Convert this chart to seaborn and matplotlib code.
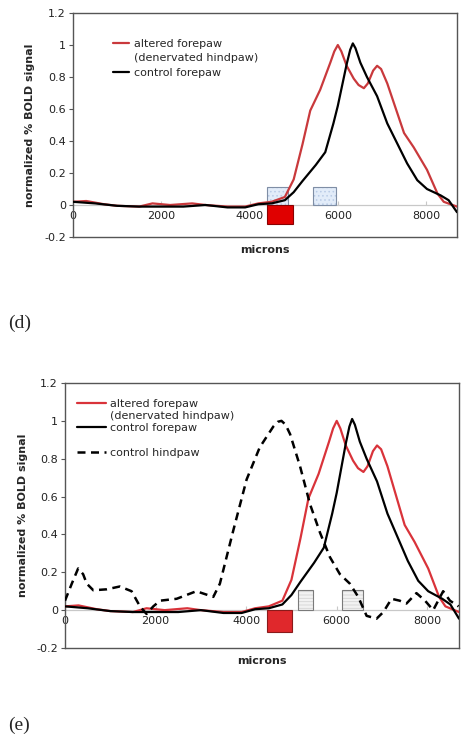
import numpy as np
import pandas as pd
import matplotlib
matplotlib.use("Agg")
import matplotlib.pyplot as plt
from matplotlib.lines import Line2D
from matplotlib.ticker import FuncFormatter
import seaborn as sns

sns.set_style("white")
plt.rcParams['font.family'] = ['DejaVu Sans']
plt.rcParams['hatch.linewidth'] = 0.6

# altered forepaw (denervated hindpaw)
x_alt = [0, 300, 700, 1000, 1500, 1800, 2200, 2700, 3000, 3500, 3900, 4200, 4500, 4800,
         5000, 5200, 5375, 5600, 5830, 5920, 6000, 6080, 6200, 6360, 6470, 6590, 6680, 6800,
         6890, 6980, 7120, 7500, 7720, 8020, 8260, 8400, 8700]
y_alt = [0.02, 0.025, 0.005, -0.005, -0.01, 0.01, 0.0, 0.01, 0.0, -0.01, -0.01, 0.01, 0.02, 0.05,
         0.16, 0.38, 0.59, 0.72, 0.89, 0.96, 1.0, 0.96, 0.87, 0.79, 0.75, 0.73, 0.76, 0.84,
         0.87, 0.85, 0.76, 0.45, 0.36, 0.22, 0.07, 0.02, -0.01]

# control forepaw
x_ctl = [0, 500, 1000, 1500, 2000, 2500, 3000, 3500, 3900, 4200, 4500, 4800, 5000, 5200,
         5500, 5715, 5900, 6000, 6200, 6280, 6340, 6400, 6510, 6660, 6890, 7120, 7345, 7570,
         7800, 8020, 8330, 8510, 8700]
y_ctl = [0.02, 0.01, -0.005, -0.01, -0.01, -0.01, 0.0, -0.015, -0.015, 0.005, 0.01, 0.03, 0.08, 0.15,
         0.25, 0.33, 0.51, 0.62, 0.88, 0.97, 1.01, 0.98, 0.89, 0.80, 0.68, 0.51, 0.385, 0.26,
         0.155, 0.10, 0.06, 0.03, -0.045]

# control hindpaw (panel e only)
x_hind = [0, 150, 290, 400, 480, 625, 920, 1210, 1470, 1655, 1800, 1950, 2100, 2465, 2900, 3275,
          3420, 3715, 4010, 4300, 4600, 4700, 4780, 4870, 4970, 5190, 5410, 5630, 5850, 6070,
          6290, 6475, 6660, 6880, 7030, 7210, 7390, 7540, 7760, 7950, 8130, 8350, 8500, 8690]
y_hind = [0.05, 0.14, 0.22, 0.19, 0.14, 0.105, 0.11, 0.125, 0.1, 0.02, -0.02, 0.02, 0.05, 0.06, 0.1, 0.07,
          0.14, 0.42, 0.69, 0.86, 0.97, 0.995, 1.0, 0.98, 0.93, 0.76, 0.56, 0.41, 0.28, 0.19,
          0.14, 0.07, -0.03, -0.045, -0.01, 0.06, 0.05, 0.035, 0.09, 0.05, 0.0, 0.1, 0.05, 0.02]

# boxes: start, end, top (microns / signal), bottom at zero
d_blue_start = [4400, 5440]
d_blue_end = [4875, 5960]
d_blue_top = [0.11, 0.11]
d_red_start = [4400]
d_red_end = [4985]
d_red_top = [-0.12]

e_gray_start = [5150, 6120]
e_gray_end = [5480, 6586]
e_gray_top = [0.106, 0.106]
e_red_start = [4464]
e_red_end = [5017]
e_red_top = [-0.116]

xticks = [0, 2000, 4000, 6000, 8000]
yticks = [-0.2, 0, 0.2, 0.4, 0.6, 0.8, 1.0, 1.2]

W, H = 469, 745
fig = plt.figure(figsize=(W / 100, H / 100), dpi=100)

FRAME = '#555555'
ZERO = '#c8c8c8'


def box(ax, starts, ends, tops, face, edge, hatch=None, hatch_color=None):
    widths = [e - s for s, e in zip(starts, ends)]
    if hatch:
        ax.bar(starts, tops, width=widths, align='edge', bottom=0, color=face,
               edgecolor=hatch_color, linewidth=0, hatch=hatch, zorder=2)
    else:
        ax.bar(starts, tops, width=widths, align='edge', bottom=0, color=face,
               linewidth=0, zorder=2)
    ax.bar(starts, tops, width=widths, align='edge', bottom=0, fill=False,
           edgecolor=edge, linewidth=0.8, zorder=2)


def style_axes(ax, left_px):
    ax.set_xlim(0, 8700)
    ax.set_ylim(-0.2, 1.2)
    ax.set_yticks(yticks)
    ax.yaxis.set_major_formatter(FuncFormatter(lambda v, p: '%g' % round(v, 1)))
    ax.tick_params(axis='y', length=3, width=0.8, color=FRAME, labelsize=8,
                   labelcolor='#222222', pad=2, left=True)
    ax.set_xticks([])
    for s in ax.spines.values():
        s.set_color(FRAME)
        s.set_linewidth(1.0)
    ax.axhline(0, color=ZERO, lw=0.9, zorder=1)
    sec = ax.secondary_xaxis(0.2 / 1.4)
    sec.set_xticks(xticks)
    sec.spines['bottom'].set_visible(False)
    sec.tick_params(axis='x', direction='in', length=3, width=0.8, color=ZERO,
                    labelsize=8, labelcolor='#222222', pad=4)
    ax.set_xlabel('microns', fontsize=8, fontweight='bold', labelpad=6)
    ax.set_ylabel('normalized % BOLD signal', fontsize=8, fontweight='bold')
    ax.yaxis.set_label_coords(left_px, 0.5)


# ---- panel (d)
ax1 = fig.add_axes([73 / W, 1 - 237 / H, 384 / W, 224 / H])
box(ax1, d_blue_start, d_blue_end, d_blue_top, '#e2ecf9', '#7f8ea5', '....', '#b9cbe6')
box(ax1, d_red_start, d_red_end, d_red_top, '#e00000', '#8a0000')
sns.lineplot(x=x_alt, y=y_alt, ax=ax1, color='#c9393c', lw=1.6, sort=False,
             estimator=None, label='altered forepaw', zorder=3)
sns.lineplot(x=x_ctl, y=y_ctl, ax=ax1, color='black', lw=1.6, sort=False,
             estimator=None, label='control forepaw', zorder=4)
style_axes(ax1, -0.10)
h, l = ax1.get_legend_handles_labels()
blank = Line2D([], [], color='none')
ax1.legend([h[0], blank, h[1]], ['altered forepaw', '(denervated hindpaw)', 'control forepaw'],
           loc='upper left', bbox_to_anchor=(0.105, 0.885), frameon=False, fontsize=8,
           handlelength=1.4, handletextpad=0.45, labelspacing=0.4, borderpad=0,
           borderaxespad=0)

# ---- panel (e)
ax2 = fig.add_axes([65 / W, 1 - 648 / H, 394 / W, 265 / H])
box(ax2, e_gray_start, e_gray_end, e_gray_top, '#f2f2f2', '#7a7a7a', '-----', '#d4d4d4')
box(ax2, e_red_start, e_red_end, e_red_top, '#e0282c', '#8a1a1a')
sns.lineplot(x=x_alt, y=y_alt, ax=ax2, color='#d9333a', lw=1.6, sort=False,
             estimator=None, label='altered forepaw', zorder=3)
sns.lineplot(x=x_ctl, y=y_ctl, ax=ax2, color='black', lw=1.6, sort=False,
             estimator=None, label='control forepaw', zorder=4)
sns.lineplot(x=x_hind, y=y_hind, ax=ax2, color='black', lw=1.8, sort=False,
             estimator=None, label='control hindpaw', zorder=4)
ax2.lines[-1].set_linestyle((0, (3.2, 2.2)))
style_axes(ax2, -0.094)
h, l = ax2.get_legend_handles_labels()
ax2.legend([h[0], blank, h[1], blank, h[2]],
           ['altered forepaw', '(denervated hindpaw)', 'control forepaw', ' ', 'control hindpaw'],
           loc='upper left', bbox_to_anchor=(0.03, 0.94), frameon=False, fontsize=8,
           handlelength=2.6, handletextpad=0.4, labelspacing=0.2, borderpad=0,
           borderaxespad=0)

fig.text(8 / W, 1 - 323 / H, '(d)', fontsize=14, family=['Liberation Serif'], va='center')
fig.text(8 / W, 1 - 725 / H, '(e)', fontsize=14, family=['Liberation Serif'], va='center')

fig.savefig('out.png', dpi=100)
